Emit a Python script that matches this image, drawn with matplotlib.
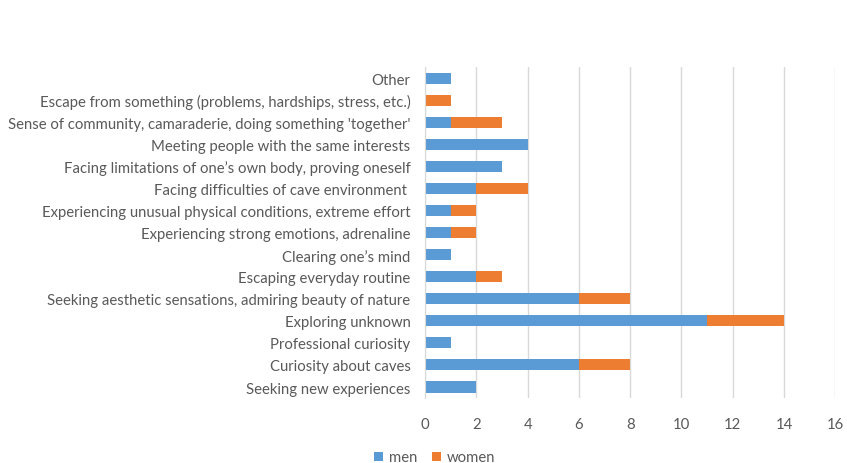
import matplotlib
matplotlib.use("Agg")
import matplotlib.pyplot as plt
import numpy as np

categories = [
    "Seeking new experiences",
    "Curiosity about caves",
    "Professional curiosity",
    "Exploring unknown",
    "Seeking aesthetic sensations, admiring beauty of nature",
    "Escaping everyday routine",
    "Clearing one\u2019s mind",
    "Experiencing strong emotions, adrenaline",
    "Experiencing unusual physical conditions, extreme effort",
    "Facing difficulties of cave environment ",
    "Facing limitations of one\u2019s own body, proving oneself",
    "Meeting people with the same interests",
    "Sense of community, camaraderie, doing something 'together'",
    "Escape from something (problems, hardships, stress, etc.)",
    "Other",
]
men = [2, 6, 1, 11, 6, 2, 1, 1, 1, 2, 3, 4, 1, 0, 1]
women = [0, 2, 0, 3, 2, 1, 0, 1, 1, 2, 0, 0, 2, 1, 0]
x_ticks = [0, 2, 4, 6, 8, 10, 12, 14, 16]

plt.rcParams["font.family"] = ["Lato", "DejaVu Sans"]
text_color = "#595959"

fig = plt.figure(figsize=(8.47, 4.64), dpi=100)
ax = fig.add_axes([0.502, 0.140, 0.484, 0.713])

y = np.arange(len(categories))
ax.barh(y, men, height=0.5, color="#5B9BD5", label="men", zorder=3)
ax.barh(y, women, left=men, height=0.5, color="#ED7D31", label="women", zorder=3)

ax.set_xlim(0, 16)
ax.set_ylim(-0.5, len(categories) - 0.5)
ax.set_xticks(x_ticks)
ax.set_yticks(y)
ax.set_yticklabels(categories)
ax.tick_params(axis="y", length=0, pad=10.5, labelsize=10.7, labelcolor=text_color)
ax.tick_params(axis="x", length=0, pad=14, labelsize=10.7, labelcolor=text_color)

ax.grid(axis="x", color="#D9D9D9", linewidth=1, zorder=0)
for side in ["top", "right", "bottom"]:
    ax.spines[side].set_visible(False)
ax.spines["left"].set_color("#D9D9D9")
ax.spines["left"].set_zorder(4)

fig.legend(loc="lower center", bbox_to_anchor=(0.513, -0.032), ncol=2, frameon=False,
           fontsize=10.7, labelcolor=text_color, handlelength=0.6, handleheight=0.6,
           handletextpad=0.4, columnspacing=1.0)

fig.savefig("out.png", dpi=100)
